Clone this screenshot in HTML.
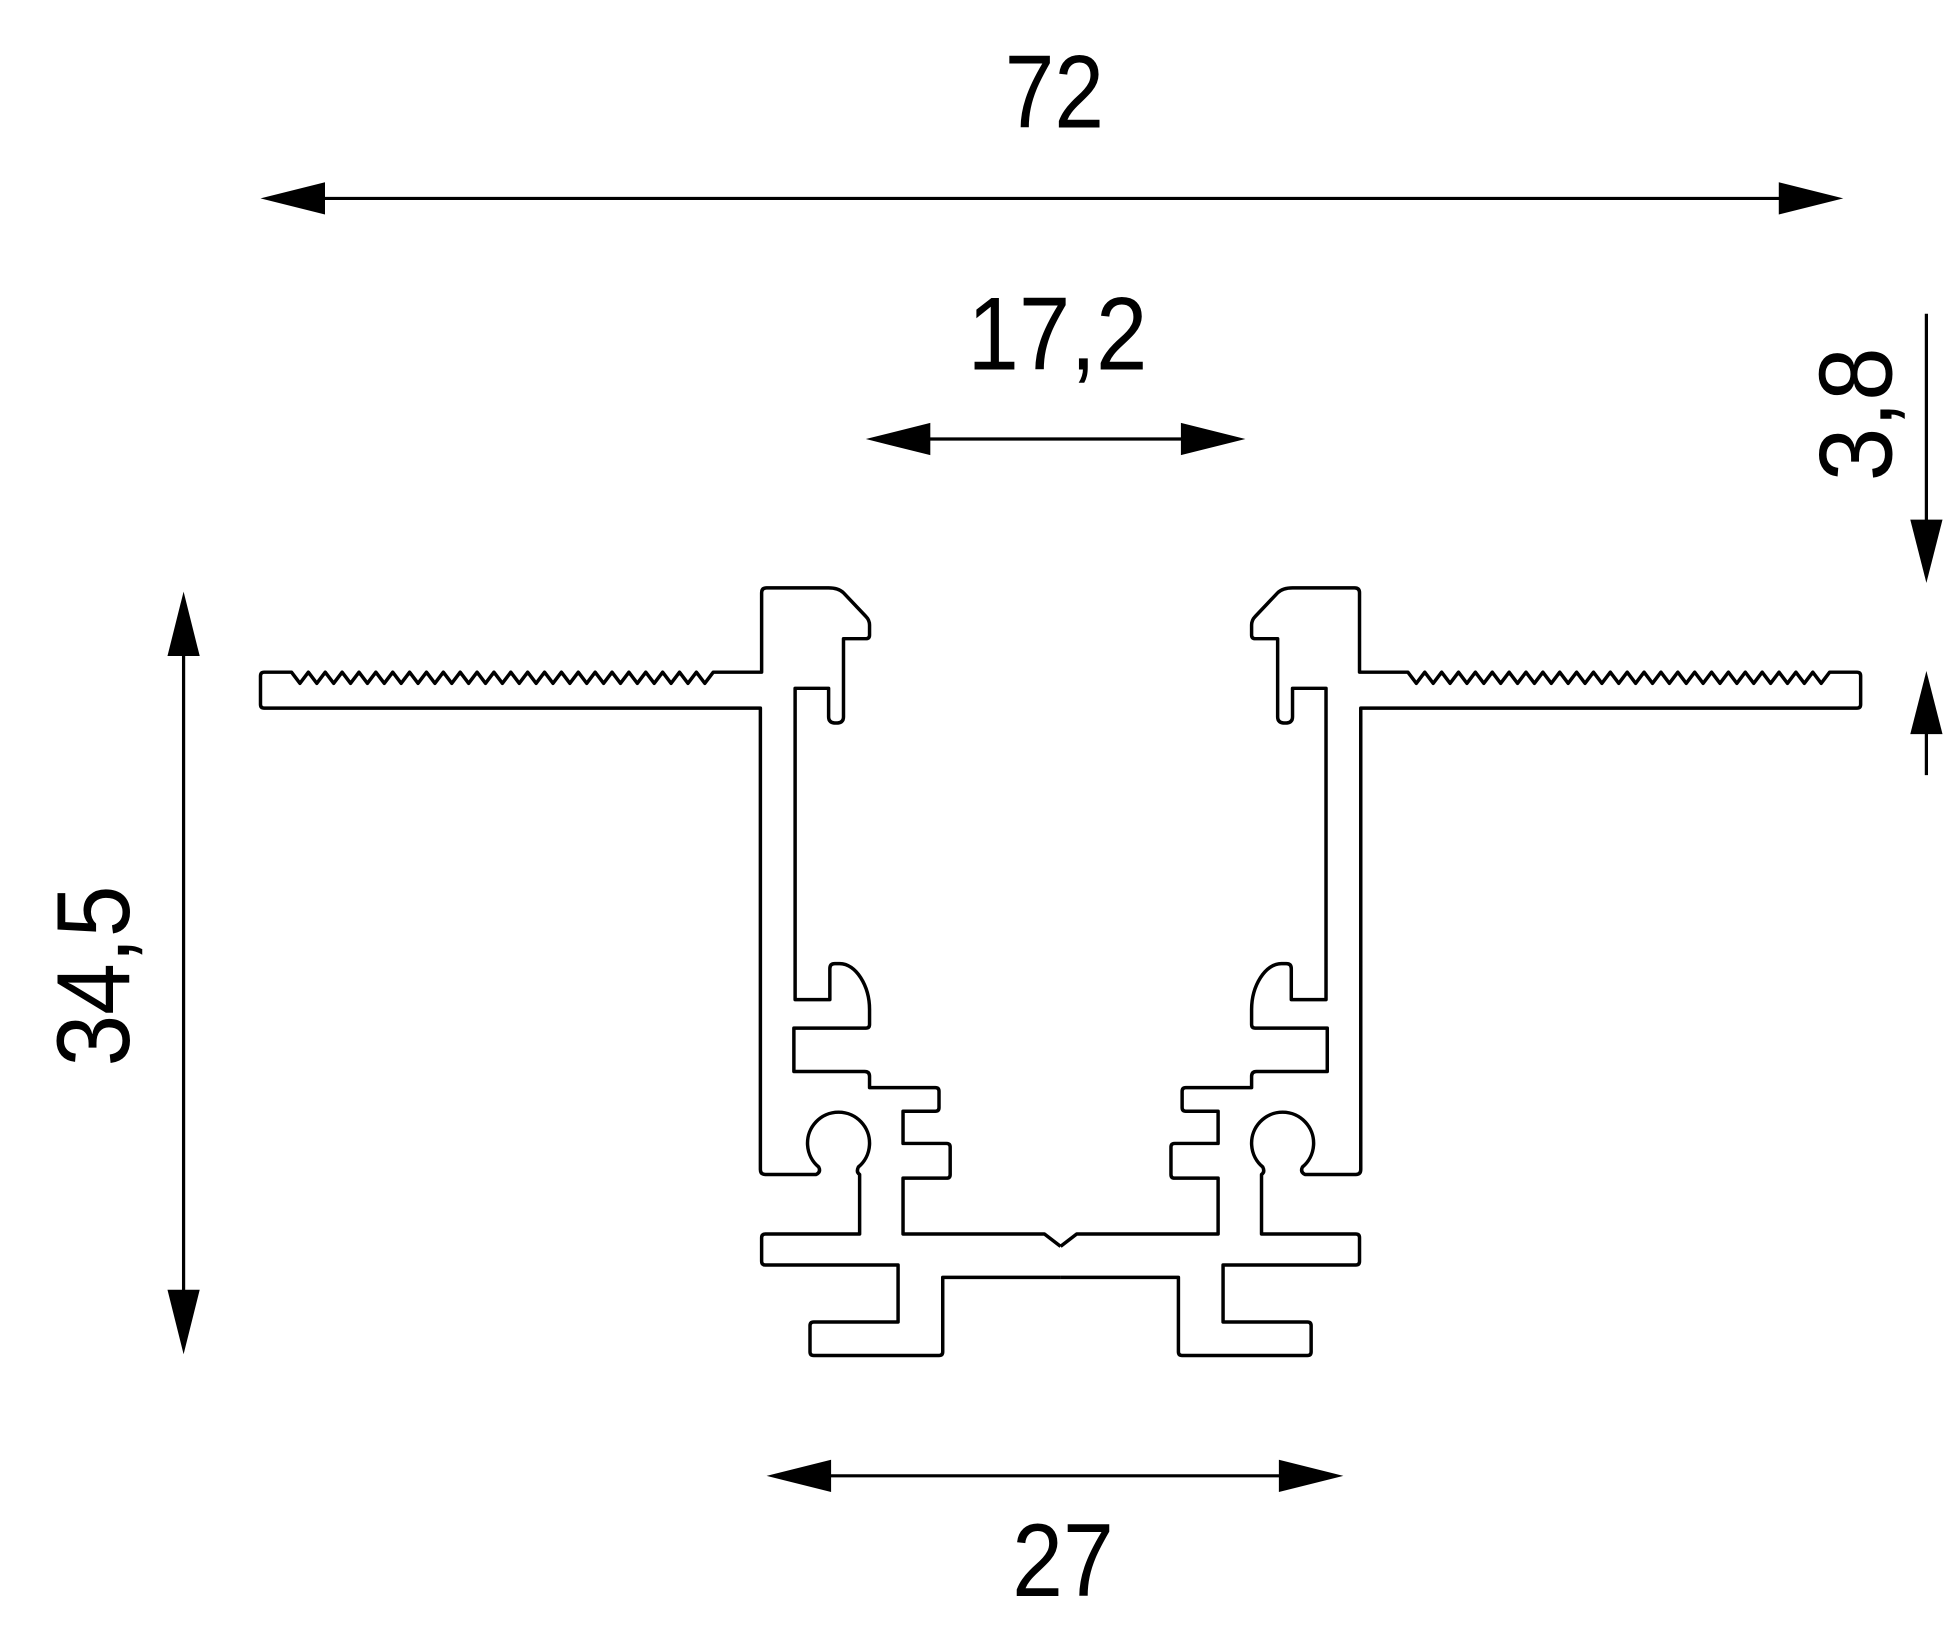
<!DOCTYPE html>
<html><head><meta charset="utf-8"><style>
html,body{margin:0;padding:0;background:#fff;}
svg{display:block;}
text{font-family:"Liberation Sans Narrow","Liberation Sans",sans-serif;fill:#000;}
</style></head><body>
<svg width="1945" height="1642" viewBox="0 0 1568 1324" preserveAspectRatio="none" xmlns="http://www.w3.org/2000/svg">
<defs>
<path id="half" fill="none" stroke="#000" stroke-width="2.8" stroke-linejoin="round"
d="M855,1005 L842,995 L728,995 L728,950 L763,950 Q766,950 766,947 L766,925 Q766,922 763,922 L728,922 L728,896 L754,896 Q757,896 757,893 L757,880 Q757,877 754,877 L701,877 L701,868 Q701,864 697,864 L640,864 L640,829 L698,829 Q701,829 701,826 L701,814 C701,795 690,777 677,777 L673,777 Q669,777 669,781 L669,806 L641,806 L641,555 L668,555 L668,578 Q668,583 674,583 Q680,583 680,578 L680,515 L698,515 Q701,515 701,512 L701,504 Q701,500 698,497 L680,478 Q676,474 668,474 L618,474 Q614,474 614,478 L614,542 L575,542 __TEETH__ L213,542 Q210,542 210,545 L210,568 Q210,571 213,571 L613,571 L613,943 Q613,947 617,947 L658,947 Q662,945 660,941 A25,25 0 1 1 692,941 Q690,945 693,947 L693,995 L617,995 Q614,995 614,998 L614,1017 Q614,1020 617,1020 L724,1020 L724,1066 L656,1066 Q653,1066 653,1069 L653,1090 Q653,1093 656,1093 L757,1093 Q760,1093 760,1090 L760,1030 L855,1030"/>
</defs>
<g id="profile"></g>
<g fill="#000" stroke="#000" stroke-width="2.6">
<line x1="240" y1="160" x2="1456" y2="160"/>
<polygon points="210,160 262,147 262,173" stroke="none"/>
<polygon points="1486,160 1434,147 1434,173" stroke="none"/>
<line x1="730" y1="354" x2="975" y2="354"/>
<polygon points="698,354 750,341 750,367" stroke="none"/>
<polygon points="1004,354 952,341 952,367" stroke="none"/>
<line x1="650" y1="1190" x2="1050" y2="1190"/>
<polygon points="618,1190 670,1177 670,1203" stroke="none"/>
<polygon points="1083,1190 1031,1177 1031,1203" stroke="none"/>
<line x1="148" y1="510" x2="148" y2="1060"/>
<polygon points="148,477 135,529 161,529" stroke="none"/>
<polygon points="148,1092 135,1040 161,1040" stroke="none"/>
<line x1="1553" y1="253" x2="1553" y2="440"/>
<polygon points="1553,470 1540,419 1566,419" stroke="none"/>
<line x1="1553" y1="570" x2="1553" y2="625"/>
<polygon points="1553,541 1540,592 1566,592" stroke="none"/>
</g>
<text x="810" y="103" font-size="84" textLength="80" lengthAdjust="spacingAndGlyphs">72</text>
<text x="780" y="298" font-size="84" textLength="145" lengthAdjust="spacingAndGlyphs">17,2</text>
<text x="816" y="1287" font-size="84" textLength="82" lengthAdjust="spacingAndGlyphs">27</text>
<text transform="translate(104,860) rotate(-90)" font-size="84" textLength="146" lengthAdjust="spacingAndGlyphs">34,5</text>
<text transform="translate(1525,388) rotate(-90)" font-size="84" textLength="108" lengthAdjust="spacingAndGlyphs">3,8</text>
</svg>
<script>
(function(){
var t="";var x=575;var n=25;var step=(575-235)/n;
for(var i=0;i<n;i++){t+=" L"+(x-step/2).toFixed(1)+",551 L"+(x-step).toFixed(1)+",542";x-=step;}
var p=document.getElementById("half");
p.setAttribute("d",p.getAttribute("d").replace("__TEETH__",t));
var g=document.getElementById("profile");
var a=p.cloneNode();a.removeAttribute("id");g.appendChild(a);
var b=p.cloneNode();b.removeAttribute("id");b.setAttribute("transform","translate(1710,0) scale(-1,1)");g.appendChild(b);
})();
</script>
</body></html>
